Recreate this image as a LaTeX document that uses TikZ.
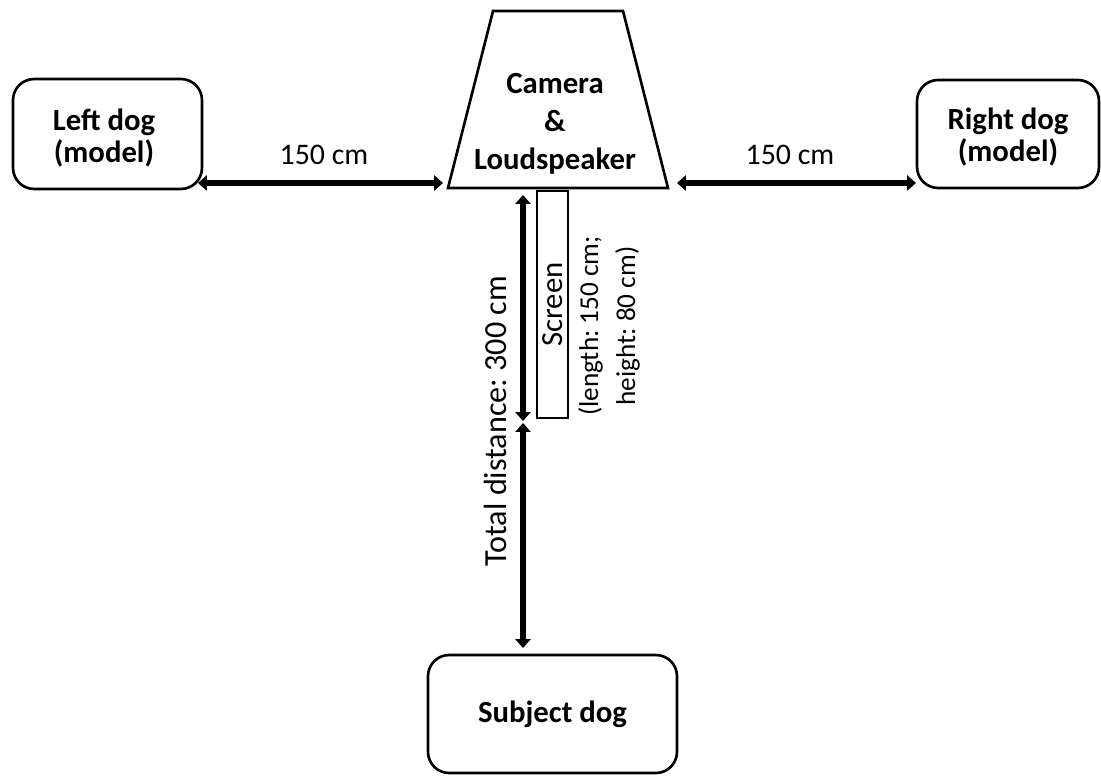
\documentclass[tikz,border=0pt]{standalone}
\usepackage{fontspec}
\setmainfont{Carlito}
\usepackage{tikz}
\usetikzlibrary{arrows.meta}
\frenchspacing

\begin{document}
\begin{tikzpicture}[x=0.02cm,y=-0.02cm,
  dogbox/.style={draw,line width=1.5pt,rounded corners=12pt,align=center,
    font=\fontsize{17.5}{18.5}\selectfont\bfseries},
  dimarrow/.style={line width=3.3pt,
    {Triangle[length=5pt,width=8.5pt]}-{Triangle[length=5pt,width=8.5pt]}},
  label/.style={font=\fontsize{17}{21}\selectfont,align=center}]
\useasboundingbox (0,0) rectangle (1101,776);
% the three dogs
\node[dogbox,minimum width=3.78cm,minimum height=2.2cm](leftdog) at (107.5,134){};
\node[dogbox,minimum width=3.64cm,minimum height=2.16cm](rightdog) at (1008,134){};
\node[dogbox,minimum width=4.98cm,minimum height=2.36cm](subject) at (552.5,714){Subject dog};
\node[dogbox,draw=none](leftdogtext) at (104,138){Left dog\\(model)};
\node[dogbox,draw=none](rightdogtext) at (1008,137){Right dog\\(model)};
% camera and loudspeaker
\coordinate (camBL) at (448,188);
\coordinate (camTL) at (493,11);
\coordinate (camTR) at (623,11);
\coordinate (camBR) at (668,188);
\draw[line width=1.5pt,line join=miter](camBL)--(camTL)--(camTR)--(camBR)--cycle;
\node[label,font=\fontsize{17.5}{21.5}\selectfont\bfseries](camera) at (555,124){Camera\\\&\\Loudspeaker};
% screen
\node[draw,line width=1.1pt,rotate=90,minimum width=4.54cm,minimum height=0.62cm,
  font=\fontsize{17.5}{19}\selectfont](screen) at (552.5,304.5){Screen};
\node[label,rotate=90,font=\fontsize{15.5}{21}\selectfont](screeninfo) at (609,326){(length: 150 cm;\\height: 80 cm)};
% distances
\coordinate (la) at (198,183);
\coordinate (lb) at (443,183);
\coordinate (ra) at (677,183);
\coordinate (rb) at (916,183);
\coordinate (va) at (523,195);
\coordinate (vb) at (523,421);
\coordinate (vc) at (523,423);
\coordinate (vd) at (523,648);
\draw[dimarrow](la)--(lb);
\draw[dimarrow](ra)--(rb);
\draw[dimarrow](va)--(vb);
\draw[dimarrow](vc)--(vd);
\node[label,anchor=base](leftdist) at (324,165){150 cm};
\node[label,anchor=base](rightdist) at (790,165){150 cm};
\node[label,rotate=90,font=\fontsize{18.3}{21}\selectfont](totaldist) at (495,421){Total distance: 300 cm};
\end{tikzpicture}
\end{document}
